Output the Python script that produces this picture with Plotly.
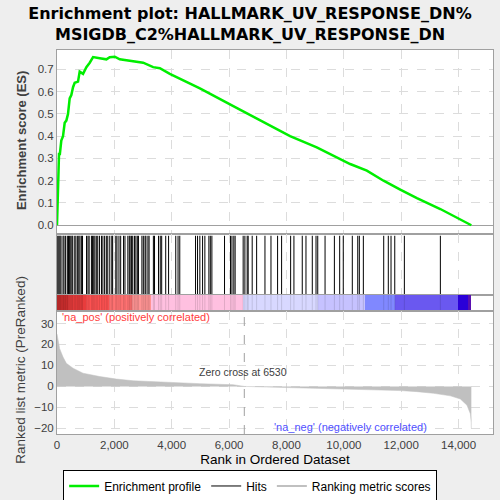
import plotly.graph_objects as go

# CONFIG
FONTE = "Liberation Sans"
FONTE_TITULO = "DejaVu Sans"
COR_FUNDO = "#eeeeee"
COR_BORDA = "#a0a0a0"
COR_GRADE = "#dcdcdc"
COR_TEXTO = "#404040"

TITULO = "Enrichment plot: HALLMARK_UV_RESPONSE_DN%<br>MSIGDB_C2%HALLMARK_UV_RESPONSE_DN"

ZERO_CROSS = 6530

# curva de enriquecimento
ES_RANK = [0, 35, 70, 100, 150, 210, 268, 326, 384, 442, 500, 559, 617, 733, 791,
           908, 1024, 1141, 1257, 1490, 1722, 1839, 2014, 2188, 2654, 3003, 3352,
           3585, 3934, 4400, 4982, 6146, 7310, 8125, 9056, 9638, 10220, 10802,
           11384, 11966, 12548, 13363, 13828, 14445]
ES_VALOR = [0.0, 0.23, 0.32, 0.32, 0.38, 0.40, 0.46, 0.47, 0.50, 0.57, 0.585, 0.62,
            0.64, 0.645, 0.69, 0.68, 0.71, 0.73, 0.755, 0.75, 0.745, 0.755, 0.757,
            0.745, 0.735, 0.73, 0.71, 0.705, 0.68, 0.65, 0.615, 0.535, 0.455, 0.40,
            0.35, 0.313, 0.275, 0.245, 0.20, 0.16, 0.122, 0.073, 0.04, 0.0]

# posicoes dos genes do conjunto
HITS = [0, 35, 70, 105, 140, 210, 245, 300, 360, 400, 440, 480, 520, 550, 620, 660,
        720, 760, 800, 850, 890, 1030, 1080, 1120, 1200, 1240, 1280, 1320, 1370,
        1420, 1480, 1550, 1600, 1660, 1720, 1770, 1840, 1910, 1940, 2050, 2090,
        2160, 2220, 2320, 2370, 2470, 2520, 2550, 2600, 2640, 2700, 2750, 2800,
        2840, 2960, 3010, 3070, 3100, 3170, 3210, 3360, 3400, 3540, 3600, 3650,
        3790, 3890, 4140, 4220, 4280, 4830, 4900, 4980, 5075, 5155, 5295, 5345,
        5400, 5840, 6050, 6100, 6165, 6210, 6490, 6550, 6630, 6665, 6805, 6960,
        7250, 7460, 7690, 7830, 8145, 8260, 8550, 8680, 8900, 9030, 9090, 9345,
        9670, 9855, 9980, 10295, 10485, 10540, 10680, 11390, 11550, 11645, 11775,
        12110, 13365]

# metrica ranqueada
METRICA_RANK = [0, 35, 93, 210, 326, 559, 908, 1490, 2072, 2654, 3818, 4982, 6146,
                6530, 7310, 8474, 9638, 10802, 11966, 12548, 13130, 13712, 14061,
                14294, 14410, 14440, 14445]
METRICA_VALOR = [25, 22, 18, 14, 11, 8.7, 6.3, 4.7, 3.5, 2.7, 1.9, 1.3, 0.8, 0.0,
                 -0.3, -0.7, -1.0, -1.5, -2.0, -2.5, -3.3, -4.5, -6.0, -9.0, -13,
                 -17, -20]

# faixa de cores (inicio, fim, cor)
FAIXA_INICIO = [0, 400, 1000, 1800, 2600, 3270, 6495, 9090, 10744, 11768, 13968, 14330]
FAIXA_FIM = [400, 1000, 1800, 2600, 3270, 6495, 9090, 10744, 11768, 13968, 14330, 14445]
FAIXA_COR = ["#cc2e2e", "#e83c3c", "#ff5252", "#ff7272", "#ff9494", "#ffc0e0",
             "#d8d8ff", "#c6c2ff", "#8088ff", "#6a58f0", "#2a00d8", "#5a10b0"]


def criar_figura():
    fig = go.Figure()

    # painel ES
    fig.add_trace(go.Scatter(
        x=ES_RANK, y=ES_VALOR, mode="lines", name="Enrichment profile",
        line=dict(color="#00ee00", width=2.5), xaxis="x", yaxis="y",
    ))

    # hits
    hx, hy, hy2 = [], [], []
    for h in HITS:
        hx += [h, h, None]
        hy += [0, 0.97, None]
        hy2 += [0, 1, None]
    fig.add_trace(go.Scatter(
        x=hx, y=hy, mode="lines", name="Hits",
        line=dict(color="black", width=1), xaxis="x2", yaxis="y2",
    ))

    # faixa de cores
    larguras = [f - i for i, f in zip(FAIXA_INICIO, FAIXA_FIM)]
    centros = [(i + f) / 2 for i, f in zip(FAIXA_INICIO, FAIXA_FIM)]
    fig.add_trace(go.Bar(
        x=centros, y=[1] * len(centros), width=larguras, marker_color=FAIXA_COR,
        marker_line_width=0, showlegend=False, hoverinfo="skip",
        xaxis="x3", yaxis="y3",
    ))
    fig.add_trace(go.Scatter(
        x=hx, y=hy2, mode="lines", showlegend=False, hoverinfo="skip",
        line=dict(color="rgba(0,0,0,0.12)", width=1), xaxis="x3", yaxis="y3",
    ))

    # metrica ranqueada
    fig.add_trace(go.Scatter(
        x=METRICA_RANK, y=METRICA_VALOR, mode="lines", fill="tozeroy",
        fillcolor="#c0c0c0", line=dict(color="#c0c0c0", width=0.5),
        showlegend=False, xaxis="x4", yaxis="y4",
    ))
    fig.add_trace(go.Scatter(
        x=[None], y=[None], mode="lines", name="Ranking metric scores",
        line=dict(color="#c0c0c0", width=2), xaxis="x4", yaxis="y4",
    ))

    eixo_x = dict(
        range=[0, 15200], showline=True, mirror=True, linecolor=COR_BORDA,
        showgrid=True, gridcolor=COR_GRADE, griddash="dash", dtick=2000,
        zeroline=False, showticklabels=False, ticks="", automargin=False,
    )
    eixo_y = dict(showline=True, mirror=True, linecolor=COR_BORDA, zeroline=False,
                  ticks="", automargin=False,
                  tickfont=dict(size=11.5, color=COR_TEXTO))

    fig.update_layout(
        template="none",
        width=500, height=500, autosize=False,
        paper_bgcolor=COR_FUNDO, plot_bgcolor="white",
        font=dict(family=FONTE, color=COR_TEXTO),
        margin=dict(l=57, r=7, t=50, b=66, autoexpand=False),
        title=dict(text="<b>" + TITULO + "</b>", x=0.5, xanchor="center",
                   y=0.962, yanchor="middle",
                   font=dict(family=FONTE_TITULO, size=16, color="black")),
        bargap=0,
        xaxis=dict(eixo_x, anchor="y"),
        xaxis2=dict(eixo_x, anchor="y2", matches="x"),
        xaxis3=dict(eixo_x, anchor="y3", showgrid=False, matches="x"),
        xaxis4=dict(eixo_x, anchor="y4", showticklabels=True, tickformat=",d",
                    tickfont=dict(size=11.5, color=COR_TEXTO), matches="x",
                    title=dict(text="Rank in Ordered Dataset",
                               font=dict(size=13.5, color="black"), standoff=4)),
        yaxis=dict(eixo_y, domain=[0.521, 1], range=[-0.039, 0.787], dtick=0.1,
                   tickformat=".1f", showgrid=True, gridcolor=COR_GRADE,
                   griddash="dash", zeroline=True, zerolinecolor="#a0a0a0",
                   zerolinewidth=1),
        yaxis2=dict(eixo_y, domain=[0.362, 0.521], range=[0, 1],
                    showgrid=False, showticklabels=False),
        yaxis3=dict(eixo_y, domain=[0.320, 0.362], range=[0, 1],
                    showgrid=False, showticklabels=False),
        yaxis4=dict(eixo_y, domain=[0, 0.320], range=[-22.7, 35.9], dtick=10,
                    showgrid=True, gridcolor=COR_GRADE, griddash="dash"),
        legend=dict(orientation="h", x=0.443, xanchor="center", y=-0.095,
                    yanchor="top", bgcolor="white", bordercolor="black",
                    borderwidth=1, font=dict(size=12, color="black"),
                    itemwidth=30, tracegroupgap=0),
        showlegend=True,
    )

    fig.add_shape(type="line", xref="x4", yref="y4 domain", x0=ZERO_CROSS,
                  x1=ZERO_CROSS, y0=0, y1=1,
                  line=dict(color="#a0a0a0", width=1, dash="dash"))

    # titulos dos eixos verticais
    fig.add_annotation(text="<b>Enrichment score (ES)</b>", textangle=-90,
                       xref="paper", yref="paper", x=-0.083, y=0.765,
                       xanchor="center", yanchor="middle",
                       showarrow=False, font=dict(size=13, color=COR_TEXTO))
    fig.add_annotation(text="Ranked list metric (PreRanked)", textangle=-90,
                       xref="paper", yref="paper", x=-0.083, y=0.167,
                       xanchor="center", yanchor="middle",
                       showarrow=False, font=dict(size=13.5, color=COR_TEXTO))

    fig.add_annotation(text="'na_pos' (positively correlated)", xref="x4",
                       yref="y4", x=100, y=33, xanchor="left", showarrow=False,
                       font=dict(size=11, color="#ff3c3c"))
    fig.add_annotation(text="Zero cross at 6530", xref="x4", yref="y4", x=6480,
                       y=6.7, showarrow=False, font=dict(size=10.5, color=COR_TEXTO))
    fig.add_annotation(text="'na_neg' (negatively correlated)", xref="x4",
                       yref="y4", x=10230, y=-19.2, showarrow=False,
                       font=dict(size=11, color="#5050ff"))
    return fig


def main():
    fig = criar_figura()
    # tira a margem padrao do body para o grafico ficar no canto
    fig.write_html(
        "out.html",
        config={"displayModeBar": False},
        post_script="document.body.style.margin='0';"
                    "document.body.style.overflow='hidden';"
                    "document.body.style.background='#eeeeee';",
    )


if __name__ == "__main__":
    main()
